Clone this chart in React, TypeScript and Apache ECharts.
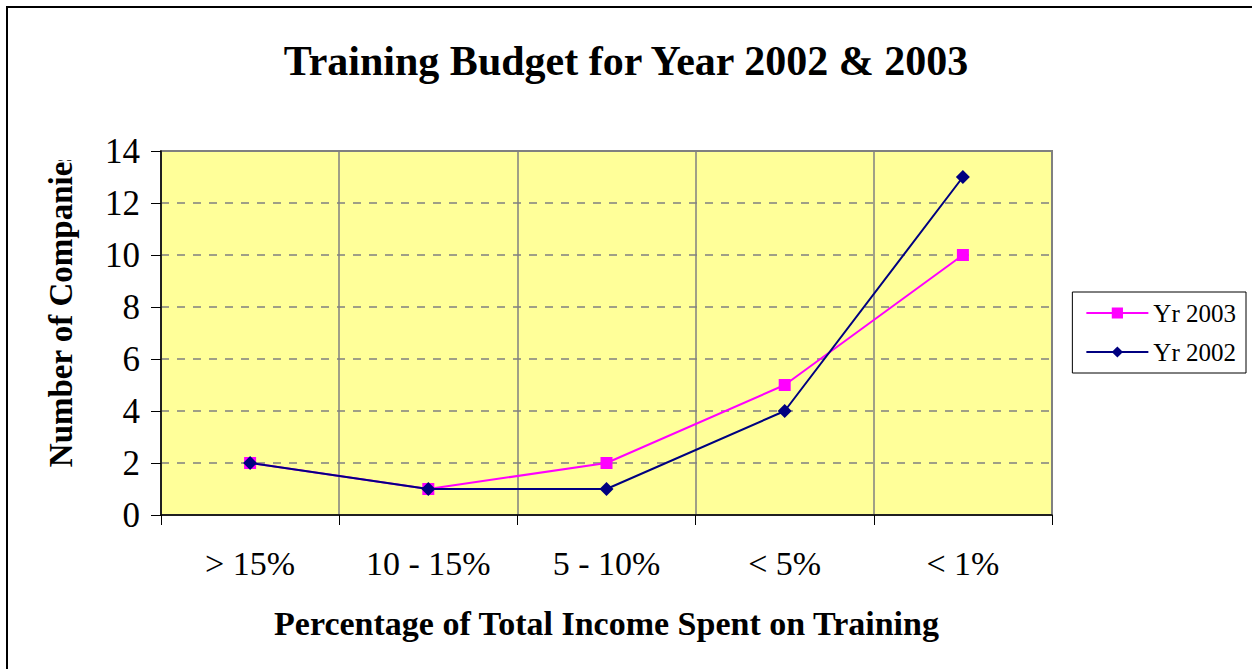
import React, { useEffect, useRef } from "react";
import * as echarts from "echarts";

const categories = ["> 15%", "10 - 15%", "5 - 10%", "< 5%", "< 1%"];
const yr2003 = [2, 1, 2, 5, 10];
const yr2002 = [2, 1, 1, 4, 13];
const yTicks = { min: 0, max: 14, interval: 2 };
const yAxisName = "Number of Companies";

const FONT = "'Liberation Serif', 'Times New Roman', serif";

export default function App() {
  const ref = useRef<HTMLDivElement>(null);
  useEffect(() => {
    const chart = echarts.init(ref.current!, null, { renderer: "svg" });
    chart.setOption({
      animation: false,
      backgroundColor: "#ffffff",
      title: {
        text: "Training Budget for Year 2002 & 2003",
        left: "center",
        top: 35,
        textStyle: { fontFamily: FONT, fontSize: 42, fontWeight: "bold", color: "#000" },
      },
      legend: {
        orient: "vertical",
        right: 6,
        top: 292,
        data: ["Yr 2003", "Yr 2002"],
        itemWidth: 62,
        itemHeight: 14,
        itemGap: 13,
        padding: [8, 10, 8, 13],
        borderColor: "#000",
        borderWidth: 1,
        textStyle: { fontFamily: FONT, fontSize: 25, lineHeight: 26, color: "#000" },
      },
      grid: {
        left: 161,
        top: 151,
        right: 200,
        bottom: 154,
        show: true,
        backgroundColor: "#FFFF99",
        borderColor: "#808080",
        borderWidth: 2,
      },
      graphic: [
        {
          type: "text",
          x: 61,
          y: 308,
          rotation: Math.PI / 2,
          style: {
            text: yAxisName,
            fontFamily: FONT,
            fontSize: 33,
            fontWeight: "bold",
            fill: "#000",
            textAlign: "center",
            textVerticalAlign: "middle",
          },
          z: 80,
        },
        {
          type: "rect",
          shape: { x: 30, y: 100, width: 60, height: 60 },
          style: { fill: "#ffffff" },
          z: 90,
        },
        {
          type: "rect",
          shape: { x: 7, y: 7, width: 1270, height: 700 },
          style: { fill: "none", stroke: "#000", lineWidth: 2 },
          z: 100,
        },
      ],
      xAxis: {
        type: "category",
        data: categories,
        boundaryGap: true,
        name: "Percentage of Total Income Spent on Training",
        nameLocation: "middle",
        nameGap: 91,
        nameTextStyle: { fontFamily: FONT, fontSize: 34, fontWeight: "bold", color: "#000" },
        axisLine: { lineStyle: { color: "#000", width: 1.5 } },
        axisTick: { show: true, length: 10, lineStyle: { color: "#000" } },
        axisLabel: { margin: 31, fontFamily: FONT, fontSize: 34, color: "#000" },
        splitLine: { show: true, lineStyle: { color: "#808080", width: 1.5, type: "solid" } },
      },
      yAxis: {
        type: "value",
        min: yTicks.min,
        max: yTicks.max,
        interval: yTicks.interval,
        axisLine: { show: true, lineStyle: { color: "#000", width: 1.5 } },
        axisTick: { show: true, length: 10, lineStyle: { color: "#000" } },
        axisLabel: { margin: 21, fontFamily: FONT, fontSize: 35, color: "#000" },
        splitLine: { show: true, lineStyle: { color: "#808080", width: 1.5, type: [8, 8] } },
      },
      series: [
        {
          name: "Yr 2003",
          type: "line",
          data: yr2003,
          symbol: "rect",
          symbolSize: 12,
          color: "#FF00FF",
          lineStyle: { color: "#FF00FF", width: 2 },
          itemStyle: { color: "#FF00FF" },
          z: 3,
        },
        {
          name: "Yr 2002",
          type: "line",
          data: yr2002,
          symbol: "diamond",
          symbolSize: 14,
          color: "#000080",
          lineStyle: { color: "#000080", width: 2 },
          itemStyle: { color: "#000080" },
          z: 4,
        },
      ],
    });
    return () => chart.dispose();
  }, []);
  return (
    <div
      ref={ref}
      style={{ position: "absolute", left: 0, top: 0, width: 1252, height: 669 }}
    />
  );
}
